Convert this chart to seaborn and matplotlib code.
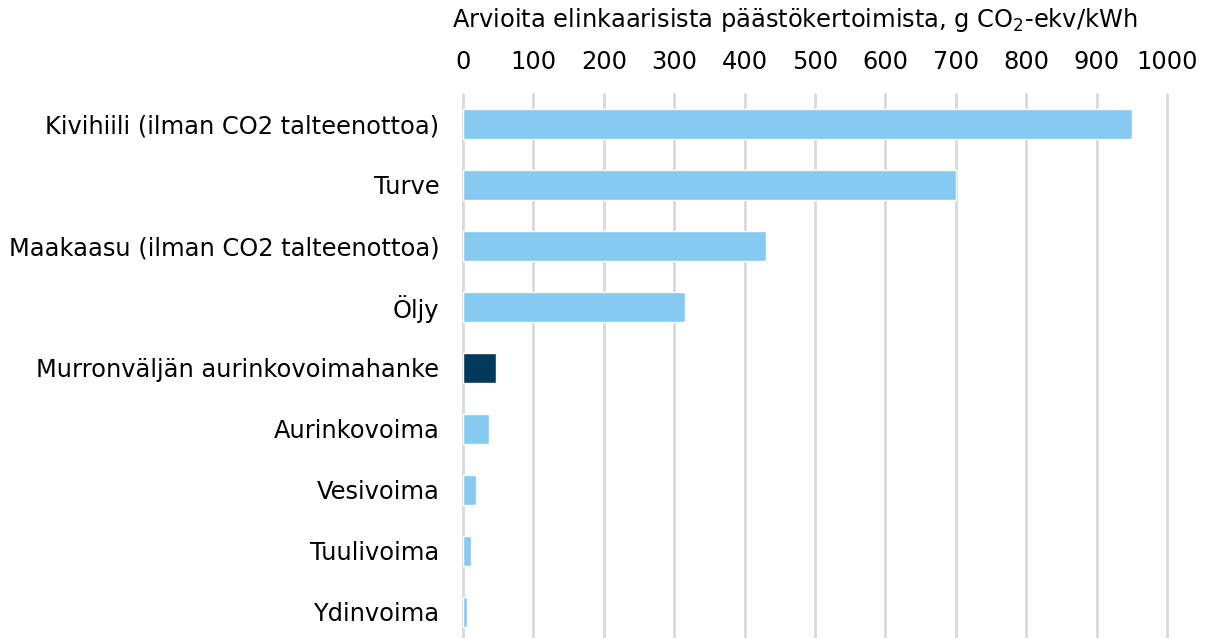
import matplotlib
matplotlib.use("Agg")
import matplotlib.pyplot as plt
import seaborn as sns
import pandas as pd

# data
categories = [
    "Kivihiili (ilman CO2 talteenottoa)",
    "Turve",
    "Maakaasu (ilman CO2 talteenottoa)",
    "Öljy",
    "Murronväljän aurinkovoimahanke",
    "Aurinkovoima",
    "Vesivoima",
    "Tuulivoima",
    "Ydinvoima",
]
values = [950, 700, 430, 316, 47, 37, 18, 12, 6]
highlight = "Murronväljän aurinkovoimahanke"

light_blue = "#86CAF1"
dark_blue = "#003A5A"

sns.set_theme(style="white")
plt.rcParams["font.family"] = ["DejaVu Sans"]

df = pd.DataFrame({"kategoria": categories, "arvo": values})
palette = {c: (dark_blue if c == highlight else light_blue) for c in categories}

fig = plt.figure(figsize=(12.12, 6.38), dpi=100)
ax = fig.add_axes([463 / 1212, 0.0, (1167 - 463) / 1212, (638 - 93.5) / 638])

sns.barplot(data=df, x="arvo", y="kategoria", hue="kategoria", palette=palette,
            order=categories, width=0.5, saturation=1, legend=False, ax=ax)

fs = 17.4
ax.set_xlim(0, 1000)
ax.set_ylim(8.43, -0.5)
ax.set_xticks(range(0, 1001, 100))
ax.xaxis.tick_top()
ax.tick_params(axis="x", length=0, pad=14, labelsize=fs, colors="#000000")
ax.tick_params(axis="y", length=0, pad=17, labelsize=fs, colors="#000000")
ax.grid(axis="x", color="#D9D9D9", linewidth=2)
for gl in ax.get_xgridlines():
    gl.set_clip_on(False)
ax.set_axisbelow(True)
for s in ax.spines.values():
    s.set_visible(False)

ax.set_ylabel("")
ax.set_xlabel("")
fig.text(452 / 1212, 1 - 20 / 638, "Arvioita elinkaarisista päästökertoimista, g CO$_2$-ekv/kWh",
         ha="left", va="center", fontsize=fs, color="#000000")

fig.savefig("out.png", dpi=100)
